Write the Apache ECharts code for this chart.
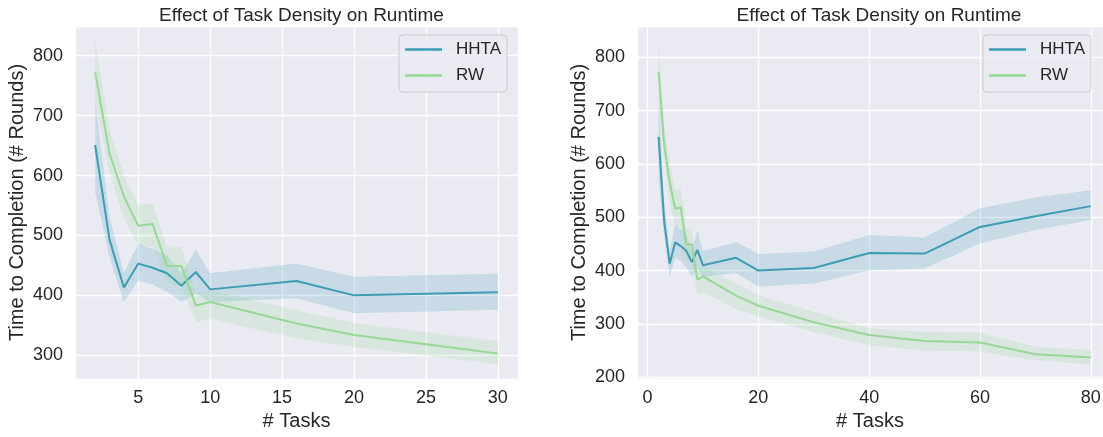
<!DOCTYPE html>
<html>
<head>
<meta charset="utf-8">
<script src="https://cdn.jsdelivr.net/npm/echarts@6/dist/echarts.min.js"></script>
<style>
  html, body { margin: 0; padding: 0; background: #fff; }
  #chart { width: 1103px; height: 437px; }
</style>
</head>
<body>
<div id="chart"></div>
<script>
// values (mean and band edges per task count)
const tasks = [2, 3, 4, 5, 6, 7, 8, 9, 10, 16, 20, 30, 40, 50, 60, 70, 80];
const hhtaMean = [651, 493, 413, 453, 446, 437, 416, 439, 410, 424, 400, 405, 433, 432, 482, 502, 521];
const hhtaLow = [573, 464, 389, 425, 418, 406, 389, 403, 389, 395, 370, 376, 400, 404, 451, 476, 495];
const hhtaHigh = [727, 531, 437, 486, 478, 467, 437, 476, 437, 453, 431, 436, 467, 462, 517, 537, 551];
const rwMean = [773, 637, 565, 516, 519, 449, 449, 383, 389, 353, 334, 303, 279, 268, 265, 243, 237];
const rwLow = [726, 604, 528, 484, 481, 420, 415, 355, 361, 328, 314, 285, 260, 250, 248, 232, 224];
const rwHigh = [825, 676, 601, 551, 553, 480, 481, 403, 409, 375, 354, 323, 292, 285, 284, 257, 251];
const leftMaxTask = 30;

const titleText = "Effect of Task Density on Runtime";
const xName = "# Tasks";
const yName = "Time to Completion (# Rounds)";

const font = "Liberation Sans, Arial, sans-serif";
const textColor = "#262626";
const hhtaColor = "#3d9db3";
const rwColor = "#98d896";

const pairs = (xs, ys) => xs.map((x, i) => [x, ys[i]]);

// confidence band: one polygon through api.coord, drawn on the first item
const bandSeries = (p, name, color, rows) => ({
  type: "custom", name: name + "_band", xAxisIndex: p, yAxisIndex: p,
  silent: true, z: 2,
  data: rows,
  encode: { x: 0, y: [1, 2] },
  renderItem: (params, api) => {
    if (params.dataIndex !== 0) return;
    const upper = rows.map(r => api.coord([r[0], r[2]]));
    const lower = rows.map(r => api.coord([r[0], r[1]])).reverse();
    return {
      type: "polygon",
      shape: { points: upper.concat(lower) },
      style: { fill: color, opacity: 0.2 }
    };
  }
});

const panelSeries = (p, maxTask) => {
  const idx = tasks.map((t, i) => i).filter(i => tasks[i] <= maxTask);
  const xs = idx.map(i => tasks[i]);
  const pick = arr => idx.map(i => arr[i]);
  const out = [];
  [
    { name: "HHTA", color: hhtaColor, mean: hhtaMean, low: hhtaLow, high: hhtaHigh },
    { name: "RW", color: rwColor, mean: rwMean, low: rwLow, high: rwHigh }
  ].forEach(s => {
    const lo = pick(s.low);
    const hi = pick(s.high);
    out.push(bandSeries(p, s.name, s.color, xs.map((x, i) => [x, lo[i], hi[i]])));
    out.push({
      type: "line", name: s.name, xAxisIndex: p, yAxisIndex: p, z: 2,
      data: pairs(xs, pick(s.mean)), symbol: "none",
      lineStyle: { color: s.color, width: 2 },
      itemStyle: { color: s.color }
    });
  });
  return out;
};

const xAxisOf = (grid, min, max) => ({
  type: "value", gridIndex: grid, min: min, max: max,
  name: xName, nameLocation: "middle", nameGap: 30,
  nameTextStyle: { fontSize: 20, color: textColor, fontFamily: font },
  axisLine: { show: false }, axisTick: { show: false },
  axisLabel: { fontSize: 18, color: textColor, fontFamily: font, margin: 10, showMinLabel: false, showMaxLabel: false },
  splitLine: { lineStyle: { color: "#ffffff", width: 1.3 } }
});

const yAxisOf = (grid, min, max) => ({
  type: "value", gridIndex: grid, min: min, max: max,
  name: yName, nameLocation: "middle", nameGap: 48,
  nameTextStyle: { fontSize: 20, color: textColor, fontFamily: font },
  axisLine: { show: false }, axisTick: { show: false },
  axisLabel: { fontSize: 18, color: textColor, fontFamily: font, margin: 12, showMinLabel: false, showMaxLabel: false },
  splitLine: { lineStyle: { color: "#ffffff", width: 1.3 } }
});

const legendOf = left => ({
  data: ["HHTA", "RW"], left: left, top: 35, orient: "vertical",
  icon: "rect", itemWidth: 37, itemHeight: 2.5, itemGap: 9,
  padding: [6, 6, 8, 6],
  backgroundColor: "rgba(234,234,242,0.8)", borderColor: "#cccccc", borderWidth: 1, borderRadius: 4,
  textStyle: { fontSize: 17, color: textColor, fontFamily: font, padding: [0, 0, 0, 9] },
  selectedMode: false
});

const chart = echarts.init(document.getElementById("chart"), null, { renderer: "canvas" });
chart.setOption({
  animation: false,
  backgroundColor: "#ffffff",
  textStyle: { fontFamily: font },
  title: [
    { text: titleText, left: 296.5, top: 1, textAlign: "center", textStyle: { fontSize: 19, fontWeight: "normal", color: textColor, fontFamily: font } },
    { text: titleText, left: 874, top: 1, textAlign: "center", textStyle: { fontSize: 19, fontWeight: "normal", color: textColor, fontFamily: font } }
  ],
  legend: [legendOf(399), legendOf(983)],
  grid: [
    { left: 75, top: 26, width: 443, height: 353, show: true, backgroundColor: "#eaeaf2", borderWidth: 0, outerBoundsMode: "none" },
    { left: 637, top: 26, width: 466, height: 353, show: true, backgroundColor: "#eaeaf2", borderWidth: 0, outerBoundsMode: "none" }
  ],
  xAxis: [xAxisOf(0, 0.6, 31.4), xAxisOf(1, -1.9, 82.2)],
  yAxis: [yAxisOf(0, 260.4, 849.6), yAxisOf(1, 196.6, 859)],
  series: panelSeries(0, leftMaxTask).concat(panelSeries(1, Infinity))
});
</script>
</body>
</html>
